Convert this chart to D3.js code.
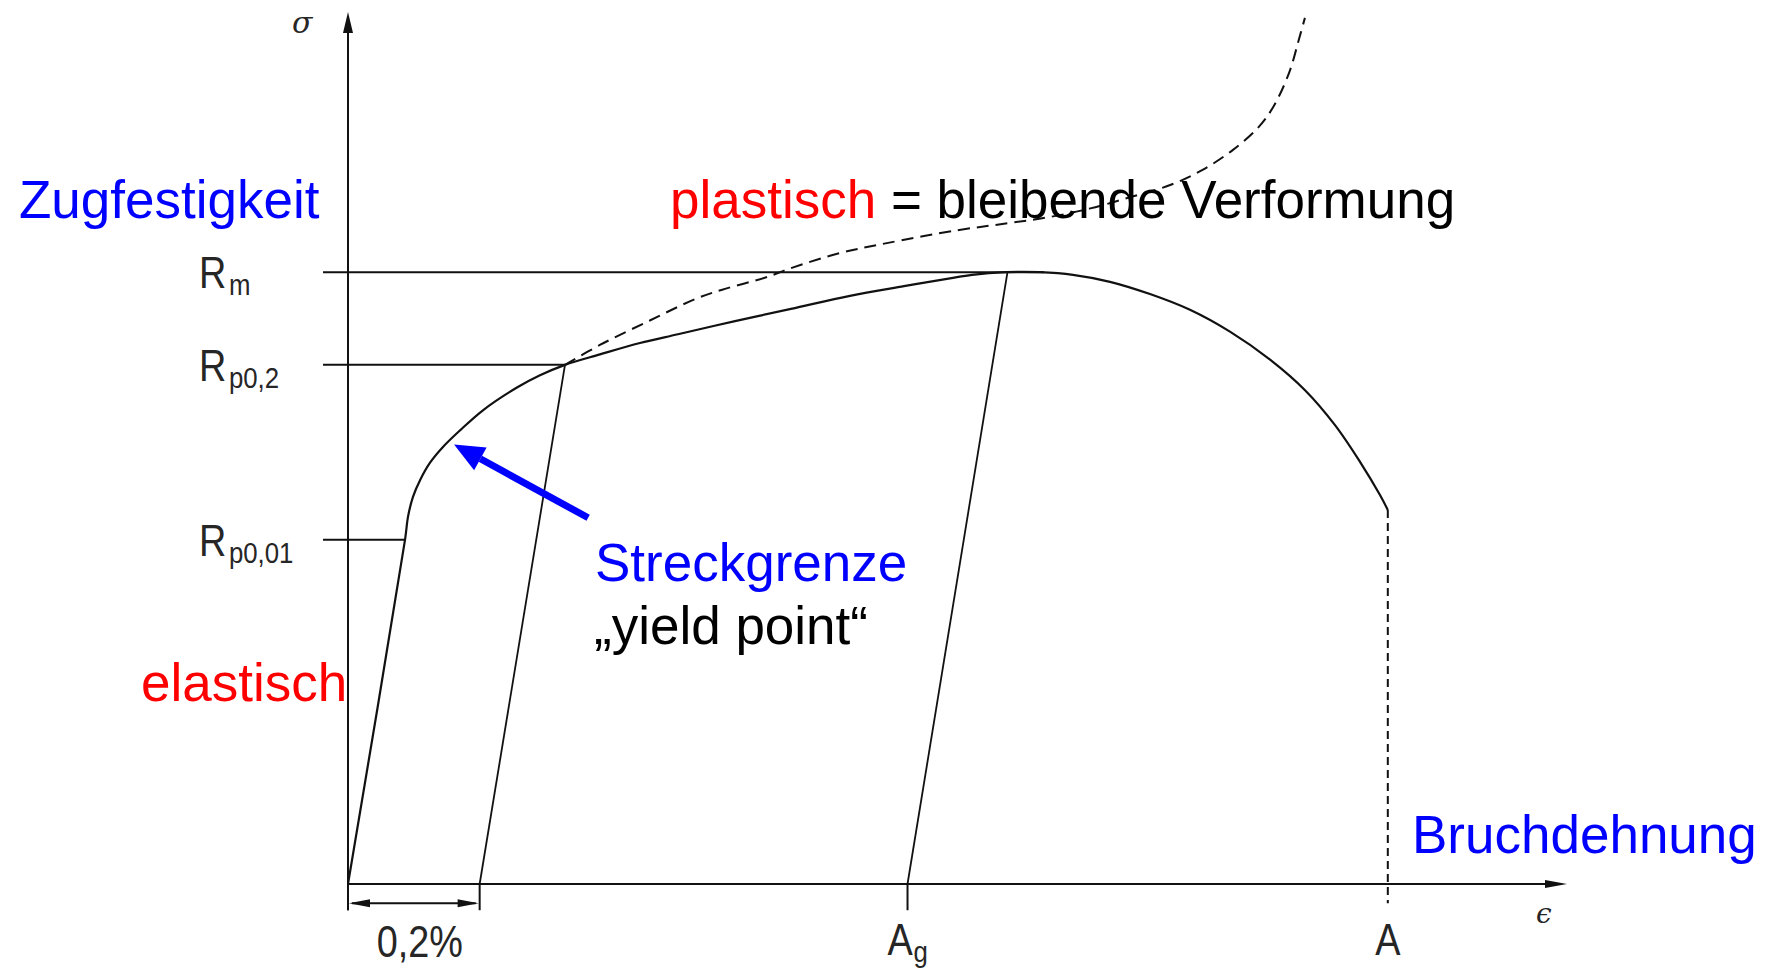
<!DOCTYPE html>
<html>
<head>
<meta charset="utf-8">
<script src="https://cdn.jsdelivr.net/npm/d3@7"></script>
<style>
  html, body { margin: 0; padding: 0; background: #ffffff; }
  svg { display: block; }
</style>
</head>
<body>
<script>
// ---------- data (arbitrary units: strain ε and stress σ, 0..100) ----------
const levelNames   = ["m", "p0,2", "p0,01"];        // subscripts of R
const levelStress  = [70, 59.4, 39.4];              // R_m, R_p0,2, R_p0,01
const levelStrainEnd = [57.1, 17.8, 4.7];           // where each reference line meets the curve

const strainMarks  = [0, 10.8, 45.9];               // ticks below the axis
const offsetStrain = 10.8;                          // 0,2 % plastic strain
const agStrain     = 45.9;                          // A_g
const aStrain      = 85.3;                          // A (fracture)
const fractureStress = 42.8;

// engineering stress–strain curve
const engCurve = [
  [0, 0], [4.68, 39.4], [4.92, 42.0], [5.33, 44.3], [5.91, 46.2], [6.73, 48.2],
  [7.79, 50.0], [9.19, 51.9], [11.07, 54.2], [13.86, 56.8], [15.75, 58.2],
  [17.8, 59.4], [20.67, 60.6], [23.95, 61.9], [27.07, 62.9], [31.75, 64.4],
  [36.34, 65.8], [41.18, 67.3], [45.61, 68.4], [49.38, 69.3], [51.19, 69.7],
  [53.98, 70.0], [56.77, 70.0], [59.47, 69.7], [62.51, 68.9], [65.79, 67.5],
  [69.07, 65.7], [72.35, 63.2], [75.64, 60.0], [78.51, 56.5], [80.97, 52.5],
  [83.02, 48.3], [84.66, 44.5], [85.3, 42.8]
];
// true stress–strain curve (dashed)
const trueCurve = [
  [17.8, 59.4], [20.7, 61.7], [24.8, 64.5], [28.6, 67.0], [30.7, 68.0],
  [34.5, 69.5], [36.2, 70.4], [40.4, 72.2], [44.1, 73.3], [50.0, 74.8],
  [54.1, 75.6], [57.5, 76.3], [60.9, 77.3], [64.2, 78.6], [67.5, 80.0],
  [70.1, 81.7], [72.6, 84.0], [74.7, 86.6], [75.9, 88.9], [77.2, 92.8],
  [78.0, 96.6], [78.5, 99.1]
];
// unloading lines parallel to the elastic line: [ε0, σ0, ε1, σ1]
const unloadLines = [[offsetStrain, 0, 17.8, 59.4], [agStrain, 0, 54.1, 70.0]];
// blue arrow "Streckgrenze": from -> to
const yieldArrow = [[19.7, 41.9], [8.7, 50.3]];

// ---------- scales ----------
const W = 1772, H = 970;
const x = d3.scaleLinear().domain([0, 100]).range([348, 1567]);
const y = d3.scaleLinear().domain([0, 100]).range([884, 10]);

const svg = d3.select("body").append("svg").attr("width", W).attr("height", H);
svg.append("rect").attr("width", W).attr("height", H).attr("fill", "#ffffff");

const ink = "#111";
const lbl = "#262626";
const lblFont = "'Liberation Sans', Arial, Helvetica, sans-serif";
const txtFont = "'Liberation Sans', Arial, Helvetica, sans-serif";
const narrow = 0.86;

// ---------- axes ----------
const axisG = svg.append("g").attr("stroke", ink).attr("stroke-width", 2);
axisG.append("line").attr("x1", x(0)).attr("x2", x(0)).attr("y1", y(-3)).attr("y2", y(98));
axisG.append("line").attr("x1", x(0)).attr("x2", x(98.5)).attr("y1", y(0)).attr("y2", y(0));
// arrow heads
svg.append("path")
  .attr("d", `M${x(0)},${y(100) + 2} L${x(0) - 5},${y(100) + 23} L${x(0) + 5},${y(100) + 23} Z`)
  .attr("fill", ink);
svg.append("path")
  .attr("d", `M${x(100)},${y(0)} L${x(100) - 22},${y(0) - 4} L${x(100) - 22},${y(0) + 4} Z`)
  .attr("fill", ink);

// ticks below axis
axisG.selectAll("line.tick").data(strainMarks).join("line").attr("class", "tick")
  .attr("x1", d => x(d)).attr("x2", d => x(d)).attr("y1", y(0)).attr("y2", y(-3));

// reference stress lines
svg.append("g").selectAll("line").data(levelStress).join("line")
  .attr("x1", x(-2.05)).attr("x2", (d, i) => x(levelStrainEnd[i]))
  .attr("y1", d => y(d)).attr("y2", d => y(d))
  .attr("stroke", ink).attr("stroke-width", 2);

// unloading lines
svg.append("g").selectAll("line").data(unloadLines).join("line")
  .attr("x1", d => x(d[0])).attr("y1", d => y(d[1]))
  .attr("x2", d => x(d[2])).attr("y2", d => y(d[3]))
  .attr("stroke", ink).attr("stroke-width", 1.8);

// curves
const line = d3.line().x(d => x(d[0])).y(d => y(d[1])).curve(d3.curveCatmullRom.alpha(0.5));
svg.append("path").attr("d", line(engCurve))
  .attr("fill", "none").attr("stroke", ink).attr("stroke-width", 2.2);
svg.append("path").attr("d", line(trueCurve))
  .attr("fill", "none").attr("stroke", ink).attr("stroke-width", 2)
  .attr("stroke-dasharray", "12,7");

// fracture dashed vertical
svg.append("line").attr("x1", x(aStrain)).attr("x2", x(aStrain))
  .attr("y1", y(fractureStress)).attr("y2", y(-2.2))
  .attr("stroke", ink).attr("stroke-width", 2).attr("stroke-dasharray", "8,5");

// dimension arrow 0,2 %
const dimY = y(-2.2);
svg.append("line").attr("x1", x(0) + 4).attr("x2", x(offsetStrain) - 4)
  .attr("y1", dimY).attr("y2", dimY).attr("stroke", ink).attr("stroke-width", 1.8);
svg.append("path")
  .attr("d", `M${x(0) + 1},${dimY} L${x(0) + 22},${dimY - 4} L${x(0) + 22},${dimY + 4} Z`)
  .attr("fill", ink);
svg.append("path")
  .attr("d", `M${x(offsetStrain) - 1},${dimY} L${x(offsetStrain) - 22},${dimY - 4} L${x(offsetStrain) - 22},${dimY + 4} Z`)
  .attr("fill", ink);

// ---------- axis / level labels (condensed look via horizontal scale) ----------
const levelLabels = svg.append("g").selectAll("text").data(levelStress).join("text")
  .attr("transform", d => `translate(199,${y(d) + 16}) scale(${narrow},1)`)
  .attr("font-family", lblFont).attr("font-size", 44).attr("fill", lbl);
levelLabels.append("tspan").text("R");
levelLabels.append("tspan").attr("dx", 3).attr("dy", 7).attr("font-size", 30)
  .text((d, i) => levelNames[i]);

svg.append("text").attr("x", 292).attr("y", 33)
  .attr("font-family", "'DejaVu Serif', 'Liberation Serif', serif").attr("font-style", "italic")
  .attr("font-size", 30).attr("fill", lbl).text("σ");
svg.append("text").attr("x", 1536).attr("y", 923)
  .attr("font-family", "'DejaVu Serif', 'Liberation Serif', serif").attr("font-style", "italic")
  .attr("font-size", 28).attr("fill", lbl).text("ϵ");

svg.append("text")
  .attr("transform", `translate(${(x(0) + x(offsetStrain)) / 2 + 6},957) scale(${narrow},1)`)
  .attr("text-anchor", "middle").attr("font-family", lblFont).attr("font-size", 44)
  .attr("fill", lbl).text("0,2%");
const ag = svg.append("text")
  .attr("transform", `translate(${x(agStrain) - 20},955) scale(${narrow},1)`)
  .attr("font-family", lblFont).attr("font-size", 44).attr("fill", lbl);
ag.append("tspan").text("A");
ag.append("tspan").attr("dx", 1).attr("dy", 7).attr("font-size", 30).text("g");
svg.append("text")
  .attr("transform", `translate(${x(aStrain)},955) scale(${narrow},1)`)
  .attr("text-anchor", "middle")
  .attr("font-family", lblFont).attr("font-size", 44).attr("fill", lbl).text("A");

// ---------- annotation texts ----------
const ann = svg.append("g").attr("font-family", txtFont).attr("font-size", 53);
ann.append("text").attr("x", 19).attr("y", 218).attr("fill", "#0000ff").text("Zugfestigkeit");
const pl = ann.append("text").attr("x", 670).attr("y", 218);
pl.append("tspan").attr("fill", "#ff0000").text("plastisch");
pl.append("tspan").attr("fill", "#000").text(" = bleibende Verformung");
ann.append("text").attr("x", 595).attr("y", 581).attr("fill", "#0000ff").text("Streckgrenze");
ann.append("text").attr("x", 594).attr("y", 644).attr("fill", "#000").text("\u201Eyield point\u201C");
ann.append("text").attr("x", 141).attr("y", 701).attr("fill", "#ff0000").text("elastisch");
ann.append("text").attr("x", 1412).attr("y", 853).attr("fill", "#0000ff").text("Bruchdehnung");

// blue arrow
const [a0, a1] = yieldArrow;
const ax0 = x(a0[0]), ay0 = y(a0[1]), ax1 = x(a1[0]), ay1 = y(a1[1]);
const ang = Math.atan2(ay1 - ay0, ax1 - ax0);
const headLen = 30, headHalf = 13;
const bx = ax1 - headLen * Math.cos(ang), by = ay1 - headLen * Math.sin(ang);
svg.append("line").attr("x1", ax0).attr("y1", ay0).attr("x2", bx).attr("y2", by)
  .attr("stroke", "#0000ff").attr("stroke-width", 7);
svg.append("path")
  .attr("d", `M${ax1},${ay1} L${bx + headHalf * Math.sin(ang)},${by - headHalf * Math.cos(ang)} L${bx - headHalf * Math.sin(ang)},${by + headHalf * Math.cos(ang)} Z`)
  .attr("fill", "#0000ff");
</script>
</body>
</html>
